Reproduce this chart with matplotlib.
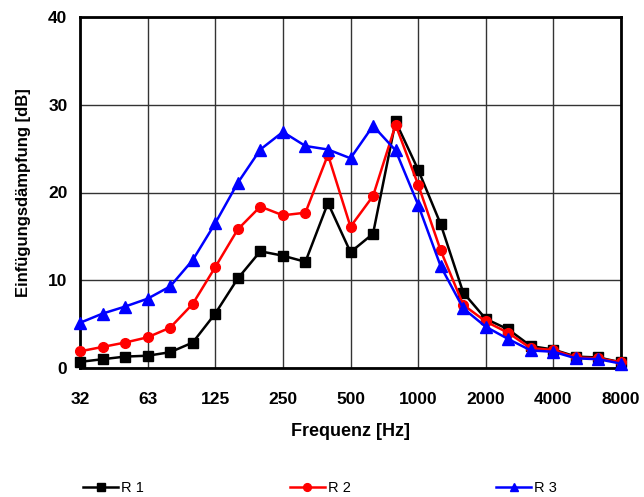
import matplotlib
matplotlib.use("Agg")
import matplotlib.pyplot as plt
import numpy as np

plt.rcParams['font.family'] = ['Liberation Sans', 'DejaVu Sans']

freqs = ["31.5", "40", "50", "63", "80", "100", "125", "160", "200", "250", "315", "400",
         "500", "630", "800", "1000", "1250", "1600", "2000", "2500", "3150", "4000",
         "5000", "6300", "8000"]
r1 = [0.7, 1.0, 1.3, 1.4, 1.8, 2.9, 6.2, 10.2, 13.3, 12.8, 12.1, 18.8, 13.2, 15.3, 28.1,
      22.6, 16.4, 8.6, 5.6, 4.4, 2.5, 2.1, 1.3, 1.2, 0.65]
r2 = [1.9, 2.4, 2.9, 3.5, 4.6, 7.3, 11.5, 15.8, 18.4, 17.4, 17.7, 24.3, 16.1, 19.6, 27.7,
      20.9, 13.4, 7.2, 5.3, 4.0, 2.25, 2.05, 1.2, 1.1, 0.65]
r3 = [5.15, 6.2, 7.0, 7.9, 9.3, 12.3, 16.5, 21.1, 24.9, 26.9, 25.3, 24.9, 23.9, 27.6, 24.8,
      18.6, 11.6, 6.8, 4.7, 3.3, 2.0, 1.85, 1.1, 1.0, 0.5]
tick_labels = ["32", "63", "125", "250", "500", "1000", "2000", "4000", "8000"]
y_ticks = [0, 10, 20, 30, 40]

fig = plt.figure(figsize=(6.44, 4.97), dpi=100)
ax = fig.add_axes([80/644, 1 - 368/497, (621 - 80)/644, (368 - 17)/497])

x = np.arange(len(freqs))
ax.plot(x, r1, color='black', marker='s', markersize=6.5, linewidth=1.8, label='R 1', clip_on=False, zorder=3)
ax.plot(x, r2, color='#FF0000', marker='o', markersize=7, linewidth=1.8, label='R 2', clip_on=False, zorder=4)
ax.plot(x, r3, color='#0000FF', marker='^', markersize=8, linewidth=1.8, label='R 3', clip_on=False, zorder=5)

ax.set_xlim(0, len(freqs) - 1)
ax.set_ylim(0, 40)
ax.set_xticks(np.arange(0, len(freqs), 3))
ax.set_xticklabels(tick_labels, fontsize=12.5, fontweight='bold')
ax.set_yticks(y_ticks)
ax.set_yticklabels([str(v) for v in y_ticks], fontsize=12.5, fontweight='bold')
ax.tick_params(axis='x', length=0, pad=17)
ax.tick_params(axis='y', length=0, pad=9)
ax.grid(True, color='#333333', linewidth=1.0)
ax.set_axisbelow(True)
for s in ax.spines.values():
    s.set_linewidth(2)
    s.set_color('black')

ax.set_xlabel('Frequenz [Hz]', fontsize=13, fontweight='bold', labelpad=12)
ax.set_ylabel('Einfügungsdämpfung [dB]', fontsize=12, fontweight='bold', labelpad=12)

fig.legend(loc='center', bbox_to_anchor=(0.497, 1 - 488/497), ncol=3, frameon=False,
           fontsize=10.5, handlelength=2.4, handletextpad=0.2, columnspacing=10.0,
           markerscale=0.8, borderpad=0.1)

fig.savefig('out.png', dpi=100)
